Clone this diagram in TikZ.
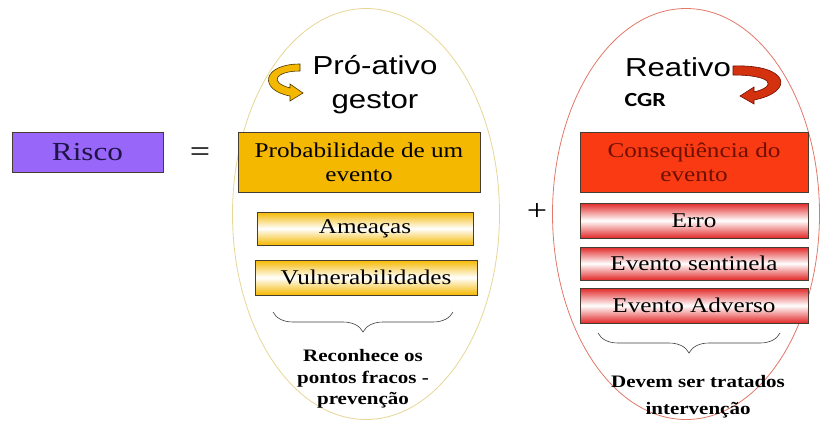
\documentclass[tikz,border=0pt]{standalone}
\usepackage{fontspec}
\setmainfont[FakeStretch=1.2]{Liberation Serif}
\setsansfont[FakeStretch=1.2]{Liberation Sans}
\newfontfamily\cgrfont[FakeStretch=1.2]{Carlito}
\usepackage{tikz}
\usetikzlibrary{shapes.geometric, arrows.meta, decorations.pathreplacing}
\usepackage{xcolor}

\definecolor{riscofill}{RGB}{153,102,250}
\definecolor{riscotext}{RGB}{30,20,70}
\definecolor{ouro}{RGB}{245,184,0}
\definecolor{ourolinha}{RGB}{232,214,150}
\definecolor{vermelho}{RGB}{250,58,18}
\definecolor{vermelhobarra}{RGB}{226,40,40}
\definecolor{vermelholinha}{RGB}{226,120,104}
\definecolor{vinho}{RGB}{110,16,0}
\definecolor{caixalinha}{RGB}{70,60,50}

\begin{document}
\begin{tikzpicture}[
        x=1pt, y=-1pt,
        box/.style={
          rectangle,
          draw=caixalinha,
          line width=0.8pt,
          inner sep=0pt,
          align=center,
          font=\fontsize{21}{24}\selectfont
        },
        goldbar/.style={
          box,
          top color=ouro,
          bottom color=ouro,
          middle color=white
        },
        redbar/.style={
          box,
          top color=vermelhobarra,
          bottom color=vermelhobarra,
          middle color=white
        },
        oval/.style={
          ellipse,
          line width=0.8pt,
          inner sep=0pt,
          minimum width=267pt,
          minimum height=411pt
        },
        title/.style={
          align=center,
          font=\sffamily\fontsize{26}{34}\selectfont
        },
        note/.style={
          align=center,
          font=\bfseries\fontsize{17.5}{21.5}\selectfont
        },
        brace/.style={
          decorate,
          decoration={brace, mirror, amplitude=20pt},
          draw=black!75,
          line width=0.6pt
        }
      ]
      \useasboundingbox (0,0) rectangle (821,424);

      % Ovals
      \node[oval, draw=ourolinha, fill=white] (proativo) at (366,214) {};
      \node[oval, draw=vermelholinha, fill=white] (reativo) at (686,214) {};

      % Left side
      \node[box, fill=riscofill, text=riscotext, minimum width=151pt, minimum height=40pt,
            font=\fontsize{26}{30}\selectfont] (risco) at (87.5,152.5) {Risco};
      \node[font=\fontsize{30}{30}\selectfont] (igual) at (200,155) {=};

      % Pro-ativo
      \node[title] (gestor) at (375,85) {Pró-ativo\\gestor};
      \node[box, fill=ouro, minimum width=242pt, minimum height=60pt] (prob) at (359,162)
        {Probabilidade de um\\evento};
      \node[goldbar, minimum width=216pt, minimum height=33pt] (ameacas) at (365,228.5) {Ameaças};
      \node[goldbar, minimum width=222pt, minimum height=35pt] (vuln) at (366,277.5) {Vulnerabilidades};
      \coordinate (lbl) at (273,312);
      \coordinate (lbr) at (453,312);
      \draw[brace] (lbl) -- (lbr);
      \node[note] (prevencao) at (363,379) {Reconhece os\\pontos fracos -\\prevenção};

      \node[font=\fontsize{30}{30}\selectfont] (mais) at (537,212) {+};

      % Reativo
      \node[title, anchor=center] (reat) at (678,67) {Reativo};
      \node[anchor=west, font=\cgrfont\bfseries\fontsize{20}{24}\selectfont] (cgr) at (621,100) {CGR};
      \node[box, fill=vermelho, text=vinho, minimum width=228pt, minimum height=60pt] (conseq) at (694,162)
        {Conseqüência do\\evento};
      \node[redbar, minimum width=228pt, minimum height=35pt] (erro) at (694,220.5) {Erro};
      \node[redbar, minimum width=228pt, minimum height=33pt] (sentinela) at (694,263.5) {Evento sentinela};
      \node[redbar, minimum width=228pt, minimum height=35pt] (adverso) at (694,305.5) {Evento Adverso};
      \coordinate (rbl) at (598,333);
      \coordinate (rbr) at (780,333);
      \draw[brace] (rbl) -- (rbr);
      \node[note, font=\bfseries\fontsize{17.5}{27}\selectfont] (intervencao) at (698,397)
        {Devem ser tratados\\intervenção};

      % Curved arrows
      \draw[fill=ouro, draw=black!70!ouro, line width=0.6pt]
        (300,64) -- (300,71) .. controls (276,71) and (268,82) .. (290,88)
        -- (290,84) -- (303,93) -- (290,101) -- (290,96)
        .. controls (258,90) and (262,64) .. (300,64) -- cycle;
      \draw[fill=vermelho!85!black, draw=vinho, line width=0.6pt]
        (733,66) .. controls (790,64) and (795,92) .. (754,100)
        -- (754,104) -- (740,96) -- (754,87) -- (754,92)
        .. controls (778,86) and (772,75) .. (733,75) -- cycle;

    \end{tikzpicture}
\end{document}
